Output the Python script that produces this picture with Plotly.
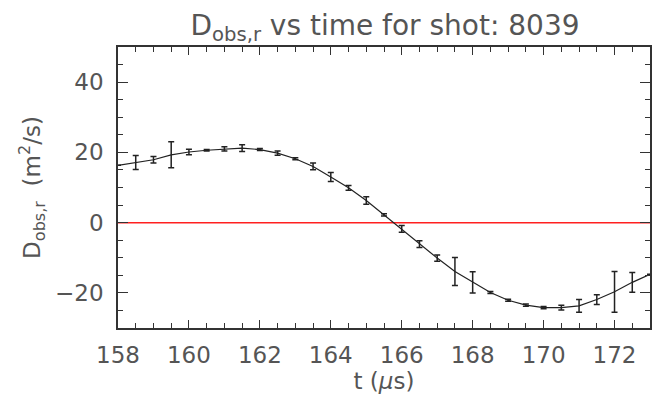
import plotly.graph_objects as go

t_us = [158.0, 158.5, 159.0, 159.5, 160.0, 160.5, 161.0, 161.5, 162.0, 162.5,
        163.0, 163.5, 164.0, 164.5, 165.0, 165.5, 166.0, 166.5, 167.0, 167.5,
        168.0, 168.5, 169.0, 169.5, 170.0, 170.5, 171.0, 171.5, 172.0, 172.5, 173.0]
d_obs = [16.3, 17.1, 17.9, 19.3, 20.1, 20.6, 21.0, 21.2, 20.8, 19.8,
         18.2, 16.0, 13.0, 9.9, 6.3, 2.2, -1.8, -6.1, -10.1, -13.9,
         -17.0, -19.9, -22.1, -23.5, -24.2, -24.2, -23.7, -21.9, -19.7, -17.0, -14.7]
d_err = [0.0, 2.0, 0.9, 3.7, 0.8, 0.2, 0.6, 0.95, 0.3, 0.6,
         0.3, 0.95, 1.3, 0.7, 1.1, 0.3, 0.95, 0.95, 0.9, 4.0,
         3.0, 0.3, 0.3, 0.3, 0.3, 0.7, 1.8, 1.4, 5.8, 2.8, 0.0]

x_ticks = [158, 160, 162, 164, 166, 168, 170, 172]
y_ticks = [-20, 0, 20, 40]
y_tick_text = ["\u221220", "0", "20", "40"]

font_family = "DejaVu Sans, Liberation Sans, sans-serif"
text_color = "#555555"
axis_color = "#333333"

fig = go.Figure()

fig.add_trace(go.Scatter(
    x=[158, 173], y=[0, 0], mode="lines",
    line=dict(color="#ff2020", width=1.5), hoverinfo="skip", showlegend=False,
))

fig.add_trace(go.Scatter(
    x=t_us, y=d_obs, mode="lines",
    line=dict(color="#222222", width=1.2),
    error_y=dict(type="data", array=d_err, visible=True,
                 color="#222222", thickness=1.5, width=3),
    showlegend=False,
))

fig.update_layout(
    width=661, height=400,
    margin=dict(l=118, r=9, t=47, b=72),
    paper_bgcolor="white", plot_bgcolor="white",
    font=dict(family=font_family, size=23, color=text_color),
    title=dict(
        text="D<sub>obs,r</sub> vs time for shot: 8039",
        x=(118 + 652) / 2 / 661, xanchor="center",
        y=1 - 25 / 400, yanchor="middle",
        font=dict(family=font_family, size=28, color=text_color),
    ),
)

fig.update_xaxes(
    range=[158, 173], tickvals=x_ticks, ticktext=[str(v) for v in x_ticks],
    ticks="inside", ticklen=8, tickwidth=1.2, tickcolor=axis_color,
    minor=dict(dtick=0.5, tick0=158, ticks="inside", ticklen=5, tickwidth=1, tickcolor=axis_color),
    showline=True, linecolor=axis_color, linewidth=1.5, mirror="allticks",
    showgrid=False, zeroline=False, ticklabelstandoff=6,
    title=dict(text="t (<i>μ</i>s)", standoff=0, font=dict(size=23)),
    tickfont=dict(size=23),
)
fig.update_yaxes(
    range=[-30, 50], tickvals=y_ticks, ticktext=y_tick_text,
    ticks="inside", ticklen=10, tickwidth=1.2, tickcolor=axis_color,
    minor=dict(dtick=5, tick0=0, ticks="inside", ticklen=5, tickwidth=1, tickcolor=axis_color),
    showline=True, linecolor=axis_color, linewidth=1.5, mirror="allticks",
    showgrid=False, zeroline=False, ticklabelstandoff=8,
    title=dict(text="D<sub>obs,r</sub>  (m<sup>2</sup>/s)", standoff=8, font=dict(size=23)),
    tickfont=dict(size=23),
)

fig.write_html("out.html")
